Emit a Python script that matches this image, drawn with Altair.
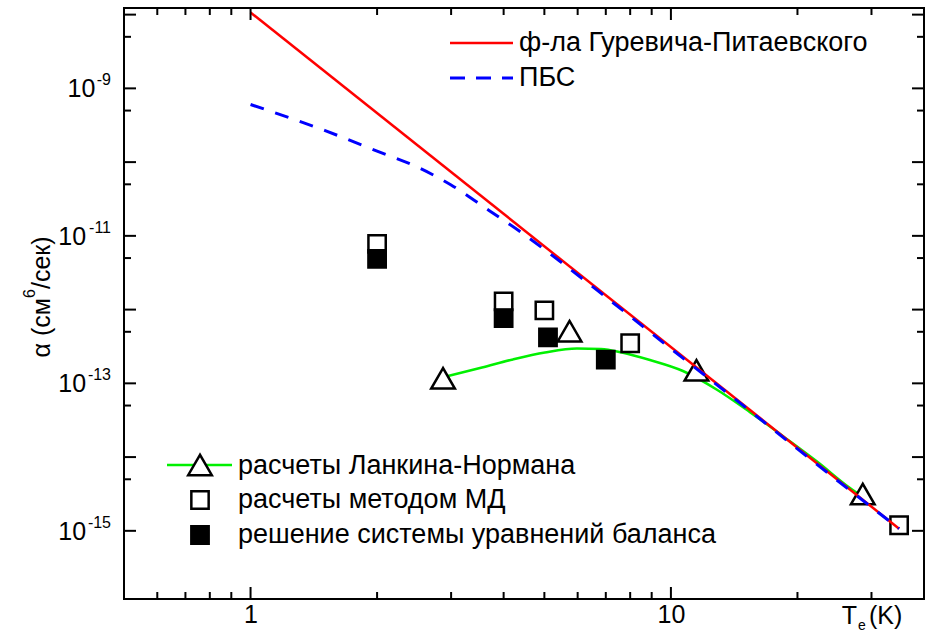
import altair as alt
import pandas as pd

FONT = "Liberation Sans"
W, H = 800, 591

# ---- data ----
gp_T = [1.0, 34.9]                      # Gurevich-Pitaevsky formula (straight on log-log)
gp_a = [1.07e-8, 1.07e-15]

pbs_T = [1.0, 1.5, 2.0, 2.5, 3.0, 3.7, 4.42, 5.12, 7.0, 10.0, 15.0, 20.0, 34.9]
pbs_a = [6.05e-10, 2.69e-10, 1.41e-10, 8.5e-11, 4.9e-11, 2.19e-11, 1.1e-11, 5.9e-12,
         1.48e-12, 2.95e-13, 4.8e-14, 1.29e-14, 1.07e-15]

ln_T = [2.886, 3.553, 4.21, 5.016, 5.977, 6.817, 7.648, 8.916, 10.68, 12.87, 15.42, 18.48, 22.26, 26.67, 28.6]
ln_a = [1.22e-13, 1.64e-13, 2.11e-13, 2.62e-13, 2.97e-13, 2.93e-13, 2.62e-13, 2.07e-13, 1.47e-13,
        8.2e-14, 4.07e-14, 1.92e-14, 8.7e-15, 3.8e-15, 2.88e-15]

tri_T = [2.87, 5.74, 11.5, 28.6]
tri_a = [1.17e-13, 5.1e-13, 1.5e-13, 3.15e-15]

md_T = [2.0, 4.0, 5.0, 8.0, 34.9]
md_a = [7.8e-12, 1.29e-12, 9.75e-13, 3.5e-13, 1.19e-15]

bal_T = [2.0, 4.0, 5.1, 7.0]
bal_a = [4.87e-12, 7.66e-13, 4.2e-13, 2.1e-13]

x_major = [1, 10]
x_minor = [0.6, 0.7, 0.8, 0.9, 2, 3, 4, 5, 6, 7, 8, 9, 20, 30]
y_major = [1e-8, 1e-9, 1e-10, 1e-11, 1e-12, 1e-13, 1e-14, 1e-15]
y_minor = [5e-9, 5e-10, 5e-11, 5e-12, 5e-13, 5e-14, 5e-15]
y_label_exp = [-9, -11, -13, -15]

leg1_labels = ["ф-ла Гуревича-Питаевского", "ПБС"]
leg2_labels = ["расчеты Ланкина-Нормана", "расчеты методом МД", "решение системы уравнений баланса"]

# ---- scales / axes ----
xs = alt.Scale(type="log", domain=[0.5, 40], nice=False)
ys = alt.Scale(type="log", domain=[1.19e-16, 1.23e-8], nice=False)
xaxis = alt.Axis(values=x_major, format="d", ticks=False, domain=False, grid=False,
                 labelFont=FONT, labelFontSize=25, labelColor="black", labelPadding=3,
                 labelFlush=False, title=None)

GREEN, RED, BLUE = "#00f000", "#ff0000", "#0000ff"
LEGFS = 27


def X(f="T"):
    return alt.X(f"{f}:Q", scale=xs, axis=xaxis)


def Y(f="a"):
    return alt.Y(f"{f}:Q", scale=ys, axis=None)


df_gp = pd.DataFrame({"T": gp_T, "a": gp_a})
df_pbs = pd.DataFrame({"T": pbs_T, "a": pbs_a})
df_ln = pd.DataFrame({"T": ln_T, "a": ln_a})
df_tri = pd.DataFrame({"T": tri_T, "a": tri_a})
df_md = pd.DataFrame({"T": md_T, "a": md_a})
df_bal = pd.DataFrame({"T": bal_T, "a": bal_a})

green = alt.Chart(df_ln).mark_line(color=GREEN, strokeWidth=2.5, interpolate="monotone").encode(x=X(), y=Y())
tri = alt.Chart(df_tri).mark_point(shape="triangle-up", size=560, filled=False, fill="white", fillOpacity=1,
                                   stroke="black", strokeWidth=2.5, opacity=1).encode(x=X(), y=Y())
md = alt.Chart(df_md).mark_point(shape="square", size=300, filled=False, fill="white", fillOpacity=1,
                                 stroke="black", strokeWidth=2.5, opacity=1).encode(x=X(), y=Y())
bal = alt.Chart(df_bal).mark_point(shape="square", size=300, filled=True, fill="black",
                                   stroke="black", strokeWidth=2.5, opacity=1).encode(x=X(), y=Y())
red = alt.Chart(df_gp).mark_line(color=RED, strokeWidth=2.5).encode(x=X(), y=Y())
blue = alt.Chart(df_pbs).mark_line(color=BLUE, strokeWidth=3, strokeDash=[14, 12],
                                   interpolate="monotone").encode(x=X(), y=Y())


# ---- inward ticks on all four sides ----
def xticks(vals, L):
    d = pd.DataFrame({"T": vals})
    b = alt.Chart(d).mark_rule(color="black", strokeWidth=2).encode(x=X(), y=alt.value(H), y2=alt.value(H - L))
    t = alt.Chart(d).mark_rule(color="black", strokeWidth=2).encode(x=X(), y=alt.value(0), y2=alt.value(L))
    return [b, t]


def yticks(vals, L):
    d = pd.DataFrame({"a": vals})
    l = alt.Chart(d).mark_rule(color="black", strokeWidth=2).encode(y=Y(), x=alt.value(0), x2=alt.value(L))
    r = alt.Chart(d).mark_rule(color="black", strokeWidth=2).encode(y=Y(), x=alt.value(W), x2=alt.value(W - L))
    return [l, r]


ticks = xticks(x_major, 12) + xticks(x_minor, 7) + yticks(y_major, 12) + yticks(y_minor, 7)

# ---- y tick labels 10^n ----
df_yl = pd.DataFrame({"e": y_label_exp})
ylab_base = alt.Chart(df_yl).transform_calculate(
    a="pow(10, datum.e)",
    b="'10'",
    bx="-13 - (5.5 + 9.2 * (length(toString(datum.e)) - 1)) - 1",
).mark_text(font=FONT, fontSize=25, align="right", baseline="middle", color="black", dy=1).encode(
    y=Y(), x=alt.X("bx:Q", scale=None, axis=None), text=alt.Text("b:N"))
ylab_sup = alt.Chart(df_yl).transform_calculate(
    a="pow(10, datum.e)", s="toString(datum.e)"
).mark_text(font=FONT, fontSize=16, align="right", baseline="middle", color="black", dy=-8).encode(
    y=Y(), x=alt.value(-13), text=alt.Text("s:N"))


# ---- axis titles ----
def txt(s, **kw):
    return alt.Chart(pd.DataFrame({"t": [s]})).mark_text(font=FONT, color="black", **kw).encode(text="t:N")


ytitle = [
    txt("α (см", fontSize=25, angle=270, align="right", baseline="middle").encode(x=alt.value(-82), y=alt.value(290)),
    txt("6", fontSize=16, angle=270, align="left", baseline="middle").encode(x=alt.value(-94), y=alt.value(290)),
    txt("/сек)", fontSize=25, angle=270, align="left", baseline="middle").encode(x=alt.value(-82), y=alt.value(281)),
]
xtitle = [
    txt("T", fontSize=25, align="right", baseline="middle").encode(x=alt.value(733), y=alt.value(H + 17)),
    txt("e", fontSize=14, align="left", baseline="middle").encode(x=alt.value(734), y=alt.value(H + 27)),
    txt("(K)", fontSize=25, align="left", baseline="middle").encode(x=alt.value(745), y=alt.value(H + 17)),
]

# ---- legends ----
lg1_red = alt.Chart(pd.DataFrame({"t": [leg1_labels[0]]})).mark_rule(color=RED, strokeWidth=2.5).encode(
    x=alt.value(326), x2=alt.value(389), y=alt.value(35))
lg1_blue = alt.Chart(pd.DataFrame({"t": [leg1_labels[1]]})).mark_rule(color=BLUE, strokeWidth=3,
                                                                       strokeDash=[15, 11]).encode(
    x=alt.value(326), x2=alt.value(389), y=alt.value(70))
lg1_t1 = txt(leg1_labels[0], fontSize=LEGFS, align="left", baseline="middle").encode(x=alt.value(395), y=alt.value(35))
lg1_t2 = txt(leg1_labels[1], fontSize=LEGFS, align="left", baseline="middle").encode(x=alt.value(395), y=alt.value(70))

lg2_green = alt.Chart(pd.DataFrame({"t": [leg2_labels[0]]})).mark_rule(color=GREEN, strokeWidth=2.5).encode(
    x=alt.value(43), x2=alt.value(108), y=alt.value(457))
lg2_tri = alt.Chart(pd.DataFrame({"t": [leg2_labels[0]]})).mark_point(
    shape="triangle-up", size=560, filled=False, fill="white", fillOpacity=1, stroke="black",
    strokeWidth=2.5, opacity=1).encode(x=alt.value(76), y=alt.value(457))
lg2_sq = alt.Chart(pd.DataFrame({"t": [leg2_labels[1]]})).mark_point(
    shape="square", size=300, filled=False, fill="white", fillOpacity=1, stroke="black",
    strokeWidth=2.5, opacity=1).encode(x=alt.value(76), y=alt.value(492))
lg2_fsq = alt.Chart(pd.DataFrame({"t": [leg2_labels[2]]})).mark_point(
    shape="square", size=300, filled=True, fill="black", stroke="black",
    strokeWidth=2.5, opacity=1).encode(x=alt.value(76), y=alt.value(527))
lg2_t = [
    txt(leg2_labels[0], fontSize=LEGFS, align="left", baseline="middle").encode(x=alt.value(114), y=alt.value(458)),
    txt(leg2_labels[1], fontSize=LEGFS, align="left", baseline="middle").encode(x=alt.value(114), y=alt.value(492)),
    txt(leg2_labels[2], fontSize=LEGFS, align="left", baseline="middle").encode(x=alt.value(114), y=alt.value(527)),
]

layers = [green, tri, md, bal, red, blue] + ticks + [ylab_base, ylab_sup] + ytitle + xtitle + \
    [lg1_red, lg1_blue, lg1_t1, lg1_t2, lg2_green, lg2_tri, lg2_sq, lg2_fsq] + lg2_t

chart = alt.layer(*layers).properties(
    width=W, height=H,
    autosize=alt.AutoSizeParams(type="none"),
    padding={"left": 124, "top": 8, "right": 2, "bottom": 44},
    background="white",
).configure_view(stroke="black", strokeWidth=2)

chart.save("out.html", embed_options={"renderer": "svg", "actions": False})
